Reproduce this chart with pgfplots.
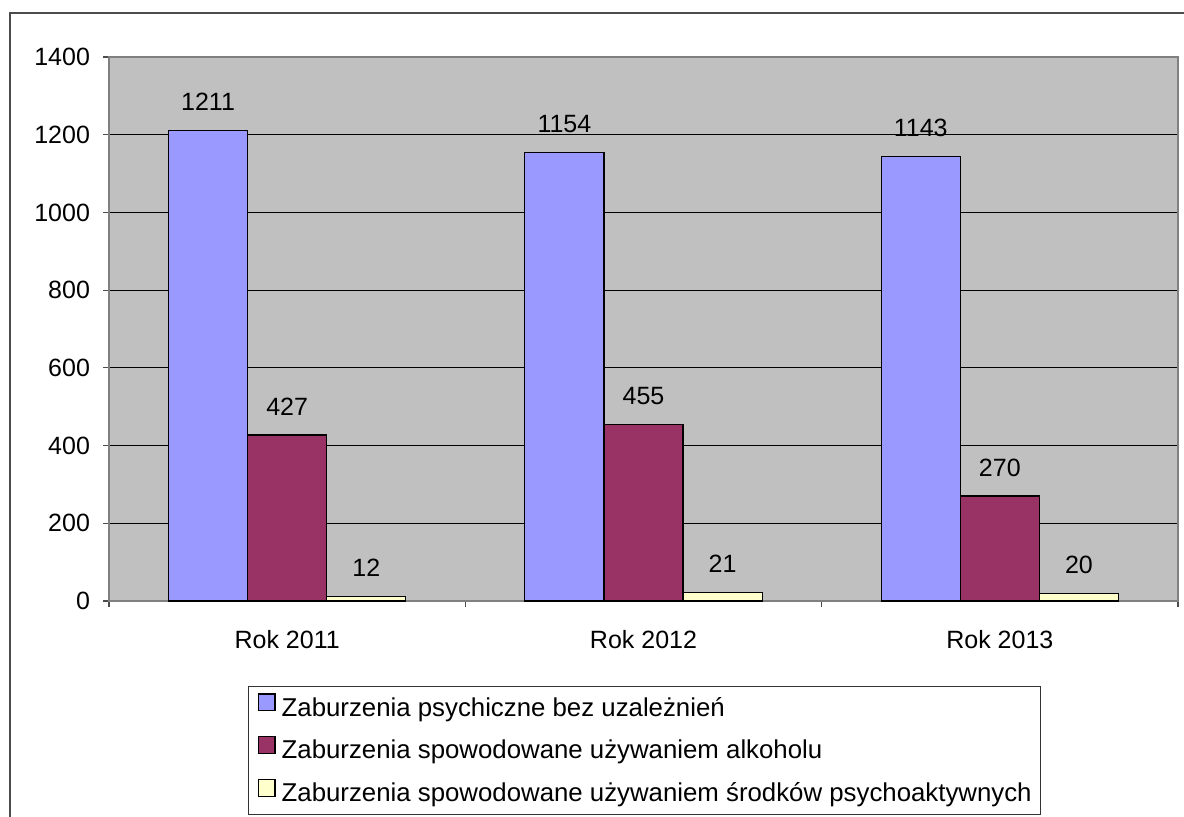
\documentclass[border=0pt]{standalone}
\usepackage{fontspec}
\setmainfont{Liberation Sans}
\usepackage{pgfplots}
\pgfplotsset{compat=1.18}
\definecolor{s1}{HTML}{9999FF}
\definecolor{s2}{HTML}{993366}
\definecolor{s3}{HTML}{FFFFCC}
\definecolor{plotbg}{HTML}{C0C0C0}
\pgfplotsset{mylegend/.style={legend image code/.code={\draw[##1,draw=black,line width=0.7pt] (0pt,-0.2pt) rectangle (8.3pt,8.1pt);}}}
\newcommand{\cf}{\fontsize{12.5}{15}\selectfont}
\newcommand{\lf}{\fontsize{12.9}{15}\selectfont}
\begin{document}
\begin{tikzpicture}
\draw[line width=1pt, draw=black!70] (5pt,-40pt) rectangle (650pt,401.5pt);
\begin{axis}[
  at={(54.5pt,107.5pt)}, anchor=south west,
  scale only axis, width=534.5pt, height=272pt,
  ymin=0, ymax=1400, ytick={0,200,...,1400},
  xmin=-0.5, xmax=2.5,
  xtick={-0.5,0.5,1.5,2.5}, x tick label as interval,
  xticklabels={Rok 2011,Rok 2012,Rok 2013},
  ybar=0pt, bar width=0.222,
  axis background/.style={fill=plotbg},
  ymajorgrids, grid style={black, line width=0.5pt},
  axis line style={draw=black!50, line width=0.7pt},
  tick align=outside, major tick length=3pt,
  tick style={black!70, line width=0.6pt},
  xtick pos=bottom, ytick pos=left,
  /pgf/number format/assume math mode=true,
  /pgf/number format/1000 sep={},
  ticklabel style={font=\cf},
  xticklabel style={yshift=-8pt},
  yticklabel style={xshift=-3pt},
  nodes near coords,
  every node near coord/.append style={font=\cf, anchor=base, yshift=10pt, black},
  legend style={at={(0.130,-0.156)}, anchor=north west, draw=black!80, line width=0.7pt,
    inner xsep=4.5pt, inner ysep=3.3pt, row sep=7pt, column sep=3pt, font=\lf,
    nodes={inner sep=0pt, text height=9pt, text depth=3pt}},
  legend cell align=left,
]
\addplot[fill=s1, draw=black, line width=0.6pt, mylegend] coordinates {(0,1211) (1,1154) (2,1143)};
\addplot[fill=s2, draw=black, line width=0.6pt, mylegend] coordinates {(0,427) (1,455) (2,270)};
\addplot[fill=s3, draw=black, line width=0.6pt, mylegend] coordinates {(0,12) (1,21) (2,20)};
\legend{Zaburzenia psychiczne bez uzależnień, Zaburzenia spowodowane używaniem alkoholu, Zaburzenia spowodowane używaniem środków psychoaktywnych}
\end{axis}
\pgfresetboundingbox
\useasboundingbox (0,0) rectangle (592pt,408pt);
\end{tikzpicture}
\end{document}
